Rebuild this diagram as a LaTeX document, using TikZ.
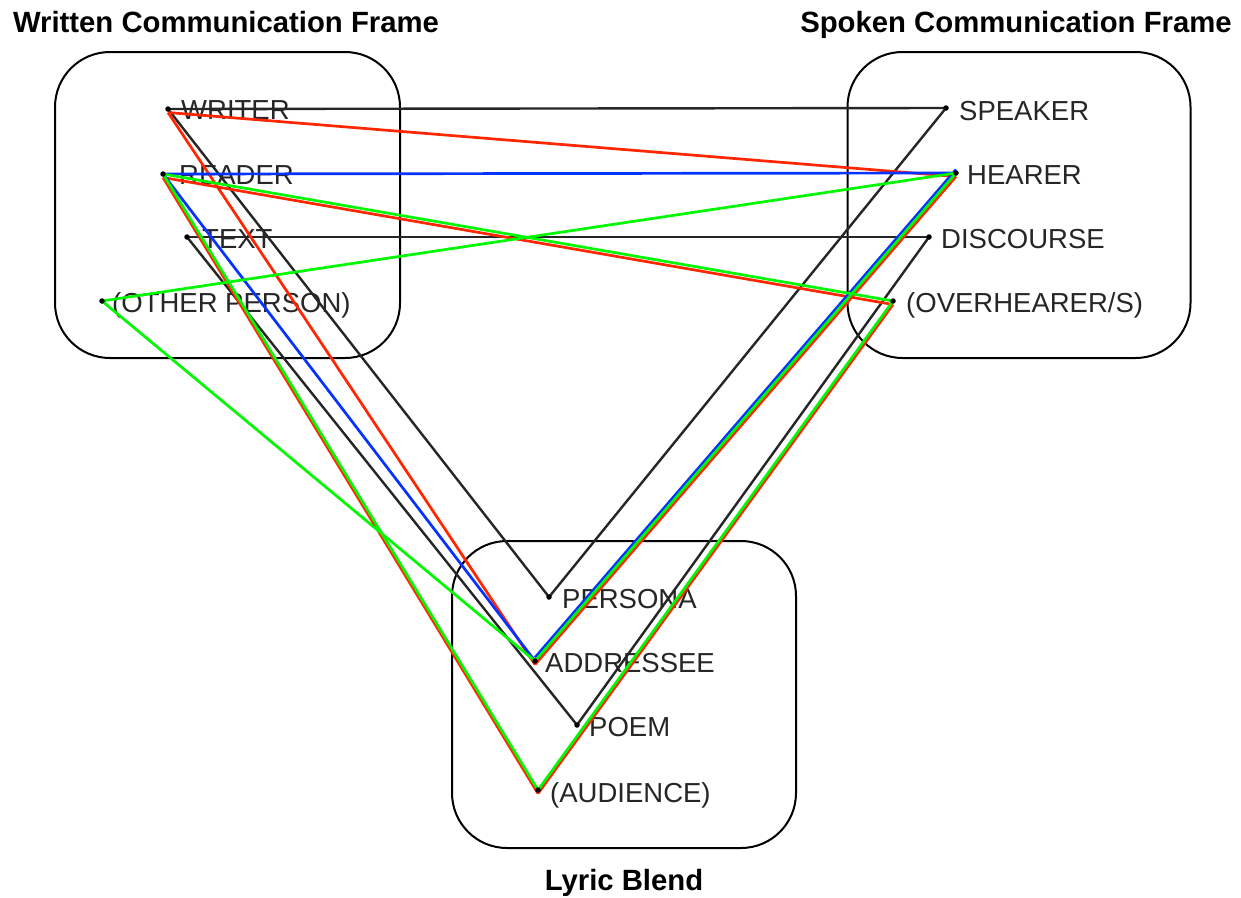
\documentclass[tikz,border=0pt]{standalone}
\usepackage{fontspec}
\setmainfont{Liberation Sans}
\usetikzlibrary{calc}
\definecolor{cred}{RGB}{255,38,0}
\definecolor{cgreen}{RGB}{0,249,0}
\definecolor{cblue}{RGB}{4,51,255}
\begin{document}
\begin{tikzpicture}[x=1pt,y=-1pt,
  frame/.style={draw=black, line width=2pt, rounded corners=55pt, inner sep=0pt},
  dotn/.style={circle, fill=black, inner sep=0pt, minimum size=5.5pt},
  lbl/.style={font=\fontsize{27.5}{30}\selectfont, text=black!85, inner sep=0pt, anchor=base west},
  ttl/.style={font=\bfseries\fontsize{29.3}{32}\selectfont, inner sep=0pt, anchor=base},
  blk/.style={draw=black!85, line width=2.4pt},
  rd/.style={draw=cred, line width=2.7pt, transform canvas={yshift=-3.5pt}},
  gr/.style={draw=cgreen, line width=2.7pt},
  bln/.style={draw=cblue, line width=2.7pt},
  bl/.style={draw=cblue, line width=2.7pt, transform canvas={yshift=3.5pt}},
]
\useasboundingbox (0,0) rectangle (1241,897);
\fill[white] (0,0) rectangle (1241,897);
% frames
\node[frame, minimum width=345pt, minimum height=306pt] (wf) at (227.5,205) {};
\node[frame, minimum width=343pt, minimum height=306pt] (sf) at (1019,205) {};
\node[frame, minimum width=344pt, minimum height=307pt] (lf) at (624,694.5) {};
% titles
\node[ttl] (wt) at (226,32) {Written Communication Frame};
\node[ttl] (st) at (1016,32) {Spoken Communication Frame};
\node[ttl] (lt) at (624,890) {Lyric Blend};
% dots
\coordinate (w) at (168,109);
\coordinate (r) at (163,174);
\coordinate (t) at (187,237);
\coordinate (o) at (102,301);
\coordinate (s) at (946,108);
\coordinate (h) at (956,173);
\coordinate (d) at (929,237);
\coordinate (ov) at (893,301);
\coordinate (pe) at (549,597);
\coordinate (ad) at (535,661);
\coordinate (po) at (577,725);
\coordinate (au) at (538,790);
% labels
\node[lbl] (wl) at (181,119) {WRITER};
\node[lbl] (rl) at (179,184) {READER};
\node[lbl] (tl) at (202,248) {TEXT};
\node[lbl] (ol) at (112,312) {(OTHER PERSON)};
\node[lbl] (sl) at (959,120) {SPEAKER};
\node[lbl] (hl) at (967,184) {HEARER};
\node[lbl] (dl) at (941,248) {DISCOURSE};
\node[lbl] (ovl) at (906,312) {(OVERHEARER/S)};
\node[lbl] (pel) at (562,608) {PERSONA};
\node[lbl] (adl) at (545,672) {ADDRESSEE};
\node[lbl] (pol) at (589,736) {POEM};
\node[lbl] (aul) at (550,802) {(AUDIENCE)};
% black connectors
\draw[blk] (w) -- (s);
\draw[blk] (w) -- (pe);
\draw[blk] (t) -- (d);
\draw[blk] (t) -- (po);
\draw[blk] (s) -- (pe);
\draw[blk] (d) -- (po);
% red connectors
\draw[rd] (w) -- (h);
\draw[rd] (w) -- (ad);
\draw[rd] (r) -- (ov);
\draw[rd] (r) -- (au);
\draw[rd] (h) -- (ad);
\draw[rd] (ov) -- (au);
% blue connectors
\draw[bln] (r) -- (h);
\draw[bln] (r) -- (ad);
\draw[bl] (h) -- (ad);
% green connectors
\draw[gr] (r) -- (ov);
\draw[gr] (r) -- (au);
\draw[gr] (o) -- (h);
\draw[gr] (o) -- (ad);
\draw[gr] (h) -- (ad);
\draw[gr] (ov) -- (au);
% dots on top
\foreach \p in {w,r,t,o,s,h,d,ov,pe,ad,po,au} \node[dotn] (dot\p) at (\p) {};
\end{tikzpicture}
\end{document}
